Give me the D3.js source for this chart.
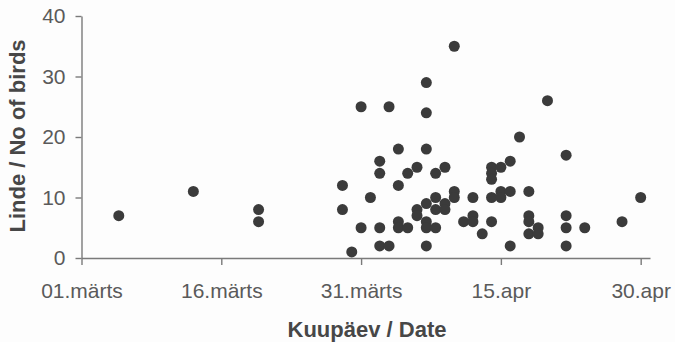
<!DOCTYPE html>
<html>
<head>
<meta charset="utf-8">
<script src="https://cdn.jsdelivr.net/npm/d3@7"></script>
<style>
  body { margin: 0; background: #fdfdfd; }
  svg { display: block; }
  .tick text { font-family: "Liberation Sans", Arial, sans-serif; font-size: 21px; fill: #5a5a5a; }
  .title { font-family: "Liberation Sans", Arial, sans-serif; font-size: 22px; font-weight: bold; fill: #474747; }
</style>
</head>
<body>
<div id="chart"></div>
<script>
// days counted from 01 March (0) ; value = number of birds
var days = [4, 12, 19, 19, 28, 28, 29, 30, 30, 31,
    32, 32, 32, 32, 33, 33, 34, 34, 34, 34,
    35, 35, 36, 36, 36, 37, 37, 37, 37, 37, 37, 37,
    38, 38, 38, 38, 39, 39, 39, 40, 40, 40, 41,
    42, 42, 42, 43, 44, 44, 44, 44, 44, 45, 45, 45,
    46, 46, 46, 47, 48, 48, 48, 48, 49, 49, 50,
    52, 52, 52, 52, 54, 58, 60];
var birds = [7, 11, 8, 6, 12, 8, 1, 25, 5, 10,
    16, 14, 5, 2, 25, 2, 18, 12, 6, 5,
    14, 5, 15, 8, 7, 29, 24, 18, 9, 6, 5, 2,
    14, 10, 8, 5, 15, 9, 8, 35, 11, 10, 6,
    10, 7, 6, 4, 15, 14, 13, 10, 6, 15, 11, 10,
    16, 11, 2, 20, 11, 7, 6, 4, 5, 4, 26,
    17, 7, 5, 2, 5, 6, 10];
var xTicks = [0, 15, 30, 45, 60];
var xTickLabels = ["01.märts", "16.märts", "31.märts", "15.apr", "30.apr"];
var yTicks = [0, 10, 20, 30, 40];

var width = 675, height = 342;
var margin = { top: 16, right: 25, bottom: 84, left: 81.5 };

var svg = d3.select("#chart").append("svg")
    .attr("width", width)
    .attr("height", height);

var x = d3.scaleLinear().domain([0, 61]).range([margin.left, width - margin.right]);
var y = d3.scaleLinear().domain([0, 40]).range([height - margin.bottom, margin.top]);

// x axis
var gx = svg.append("g")
    .attr("transform", "translate(0," + y(0) + ")")
    .call(d3.axisBottom(x)
        .tickValues(xTicks)
        .tickFormat(function (d, i) { return xTickLabels[i]; })
        .tickSize(7)
        .tickSizeOuter(0)
        .tickPadding(18));

// y axis
var gy = svg.append("g")
    .attr("transform", "translate(" + x(0) + ",0)")
    .call(d3.axisLeft(y)
        .tickValues(yTicks)
        .tickSize(6)
        .tickSizeOuter(0)
        .tickPadding(10));

svg.selectAll(".domain, .tick line")
    .attr("stroke", "#7a7a7a")
    .attr("stroke-width", 1.4);

// points
var pts = days.map(function (d, i) { return { day: d, n: birds[i] }; });
svg.append("g").selectAll("circle")
    .data(pts)
    .enter().append("circle")
    .attr("cx", function (d) { return x(d.day); })
    .attr("cy", function (d) { return y(d.n); })
    .attr("r", 5.5)
    .attr("fill", "#3b3b3b");

// titles
svg.append("text")
    .attr("class", "title")
    .attr("x", 367)
    .attr("y", 337)
    .attr("text-anchor", "middle")
    .text("Kuupäev / Date");

svg.append("text")
    .attr("class", "title")
    .attr("transform", "translate(25," + 136 + ") rotate(-90)")
    .attr("text-anchor", "middle")
    .text("Linde / No of birds");
</script>
</body>
</html>
